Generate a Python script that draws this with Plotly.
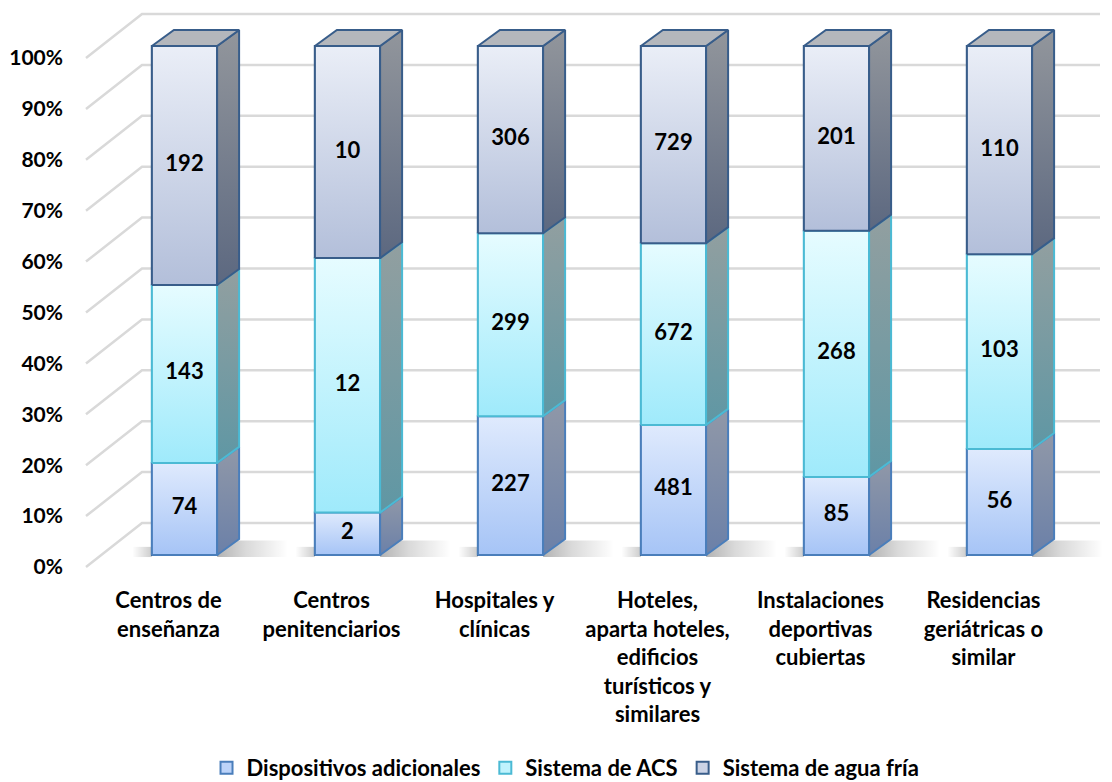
import numpy as np
import plotly.graph_objects as go

# ---------------- data ----------------
categories = [
    "Centros de<br>enseñanza",
    "Centros<br>penitenciarios",
    "Hospitales y<br>clínicas",
    "Hoteles,<br>aparta hoteles,<br>edificios<br>turísticos y<br>similares",
    "Instalaciones<br>deportivas<br>cubiertas",
    "Residencias<br>geriátricas o<br>similar",
]
series_names = ["Dispositivos adicionales", "Sistema de ACS", "Sistema de agua fría"]
dispositivos = [74, 2, 227, 481, 85, 56]
acs = [143, 12, 299, 672, 268, 103]
agua_fria = [192, 10, 306, 729, 201, 110]
y_ticks = [0, 10, 20, 30, 40, 50, 60, 70, 80, 90, 100]
y_ticklabels = [f"{v}%" for v in y_ticks]

series_values = [dispositivos, acs, agua_fria]

# ---------------- styles ----------------
FONT = "Lato"
front_base = ["#bcd3f9", "#c0f3fd", "#cbd3e6"]
front_grad = [("#a6c4f6", "#dfeafd"), ("#9feafb", "#e6fcff"), ("#b3bfda", "#eaeef7")]
border = ["#4a7ebb", "#4bbad4", "#385d8a"]
side_cols = [("#6b80a8", "#9098a8"), ("#5f97a4", "#929fa0"), ("#5c6880", "#92969c")]
top_col = "#b4b7bc"

OFF = 8                # page body margin
W, H = 1112 - OFF, 782 - OFF
T = 0
PLOT_H = 585 - OFF
B = H - T - PLOT_H
PX_X = 163.0                  # pixels per category
X0_PX = 184.5 - OFF           # pixel of first category centre
PX_Y = 5.09                   # pixels per percent
Y0_PX = 555.0 - OFF           # pixel of 0 % on bar front plane

x_range = [(0 - X0_PX) / PX_X, (W - X0_PX) / PX_X]
y_range = [(Y0_PX - (T + PLOT_H)) / PX_Y, (Y0_PX - T) / PX_Y]
LBL_OFF = -12 / PX_Y   # label plane offset
BACK_OFF = 32 / PX_Y   # back wall offset
y2_range = [y_range[0] - LBL_OFF, y_range[1] - LBL_OFF]

BAR_W = 0.4
DX = 22 / PX_X
DY = 16 / PX_Y
X_LBL = (86 - OFF - X0_PX) / PX_X
X_BACK = (142 - OFF - X0_PX) / PX_X
X_END = (1100 - OFF - X0_PX) / PX_X

vals = np.array(series_values, dtype=float)
pct = vals / vals.sum(axis=0) * 100
bases = np.vstack([np.zeros(vals.shape[1]), np.cumsum(pct, axis=0)[:-1]])
tops = bases + pct
xs = np.arange(len(categories))

fig = go.Figure()

# floor shadows
for i in xs:
    xl, xr = i - BAR_W / 2, i + BAR_W / 2
    fig.add_trace(go.Scatter(
        x=[xr, xr + DX + 0.3, xr + DX + 0.3, xr, xr],
        y=[-0.4, -0.4, DY * 0.9, DY * 0.9, -0.4],
        fill="toself", mode="none", showlegend=False, hoverinfo="skip",
        fillgradient=dict(type="horizontal", colorscale=[
            [0, "rgba(0,0,0,0.3)"], [0.4, "rgba(0,0,0,0.15)"], [1, "rgba(0,0,0,0)"]]),
    ))
    fig.add_trace(go.Scatter(
        x=[xl - 0.12, xl, xl, xl - 0.12, xl - 0.12],
        y=[-0.4, -0.4, 1.6, 1.6, -0.4],
        fill="toself", mode="none", showlegend=False, hoverinfo="skip",
        fillgradient=dict(type="horizontal", colorscale=[
            [0, "rgba(0,0,0,0)"], [1, "rgba(0,0,0,0.2)"]]),
    ))

# front faces (bars)
for j, name in enumerate(series_names):
    fig.add_trace(go.Bar(
        x=xs, y=pct[j], base=bases[j], name=name, width=BAR_W,
        marker=dict(color=front_base[j], line=dict(color=border[j], width=2)),
        hoverinfo="skip",
    ))

# gradient shading on front faces + side faces
for j in range(len(series_names)):
    for i in xs:
        xl, xr = i - BAR_W / 2, i + BAR_W / 2
        b, t = bases[j][i], tops[j][i]
        fig.add_trace(go.Scatter(
            x=[xl, xr, xr, xl, xl], y=[b, b, t, t, b],
            fill="toself", mode="lines", line=dict(color=border[j], width=2),
            showlegend=False, hoverinfo="skip",
            fillgradient=dict(type="vertical", colorscale=[
                [0, front_grad[j][0]], [1, front_grad[j][1]]]),
        ))
        fig.add_trace(go.Scatter(
            x=[xr, xr + DX, xr + DX, xr, xr], y=[b, b + DY, t + DY, t, b],
            fill="toself", mode="lines", line=dict(color=border[j], width=2),
            showlegend=False, hoverinfo="skip",
            fillgradient=dict(type="vertical", colorscale=[
                [0, side_cols[j][0]], [1, side_cols[j][1]]]),
        ))

# top faces
for i in xs:
    xl, xr = i - BAR_W / 2, i + BAR_W / 2
    t = tops[-1][i]
    fig.add_trace(go.Scatter(
        x=[xl, xl + DX, xr + DX, xr, xl], y=[t, t + DY, t + DY, t, t],
        fill="toself", mode="lines", line=dict(color=border[-1], width=2),
        showlegend=False, hoverinfo="skip", fillcolor=top_col,
    ))

# value labels
for j in range(len(series_names)):
    fig.add_trace(go.Scatter(
        x=xs, y=bases[j] + pct[j] / 2, mode="text",
        text=[str(v) for v in series_values[j]],
        textfont=dict(family=FONT, size=22, color="#000000", weight="bold"),
        showlegend=False, hoverinfo="skip",
    ))

# gridlines (3D wall style)
shapes = []
for v in y_ticks:
    shapes.append(dict(
        type="path", xref="x", yref="y", layer="below",
        path=f"M {X_LBL},{v + LBL_OFF} L {X_BACK},{v + BACK_OFF} L {X_END},{v + BACK_OFF}",
        line=dict(color="#d9d9d9", width=2.5),
    ))

fig.update_layout(
    width=W, height=H,
    margin=dict(l=0, r=0, t=T, b=B, autoexpand=False),
    paper_bgcolor="white", plot_bgcolor="white",
    barmode="overlay",
    shapes=shapes,
    font=dict(family=FONT, size=22, color="#000000"),
    xaxis=dict(range=x_range, tickvals=list(xs), ticktext=categories,
               showgrid=False, zeroline=False, showline=False, ticks="",
               automargin=False, ticklabelshift=-16,
               tickfont=dict(family=FONT, size=22, weight="bold")),
    yaxis=dict(range=y_range, showgrid=False, zeroline=False, showline=False,
               showticklabels=False, automargin=False),
    yaxis2=dict(range=y2_range, overlaying="y", anchor="free", side="left",
                position=55 / W, tickvals=y_ticks, ticktext=y_ticklabels,
                showgrid=False, zeroline=False, showline=False, ticks="",
                automargin=False,
                tickfont=dict(family=FONT, size=21, weight="bold")),
    legend=dict(orientation="h", x=0.505, xanchor="center",
                y=(PLOT_H - (768 - OFF)) / PLOT_H, yanchor="middle",
                font=dict(family=FONT, size=22, weight="bold"),
                traceorder="normal"),
)
# empty trace so the secondary (label) axis is rendered
fig.add_trace(go.Scatter(x=[None], y=[None], yaxis="y2", showlegend=False, hoverinfo="skip"))

fig.write_html("out.html")
